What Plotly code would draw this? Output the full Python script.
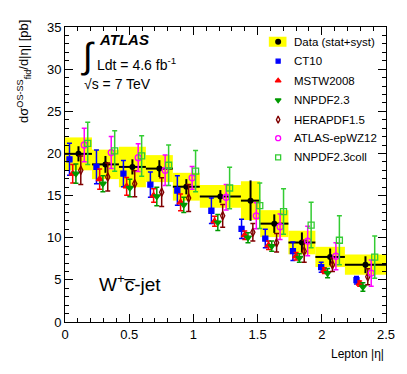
import plotly.graph_objects as go
import numpy as np

# bin edges in lepton |eta|
edges = [0, 0.21, 0.42, 0.63, 0.84, 1.05, 1.37, 1.52, 1.74, 1.95, 2.18, 2.5]

# measured cross section
data_y = [19.95, 18.7, 18.4, 18.2, 16.05, 14.9, 14.4, 11.67, 9.43, 7.72, 6.8]
data_stat = [0.9, 1.0, 0.9, 1.0, 0.9, 0.75, 2.4, 1.1, 1.2, 1.0, 1.0]
data_band = [1.95, 1.75, 2.4, 1.6, 1.65, 1.35, 2.3, 1.6, 1.4, 1.2, 1.2]

# predictions
ct10 = [19.3, 18.4, 17.6, 16.3, 15.6, 13.2, 11.05, 9.9, 8.4, 6.5, 4.96]
ct10_err = [1.9, 2.0, 1.55, 1.5, 1.75, 1.5, 1.15, 1.1, 1.1, 0.6, 0.45]
mstw = [17.6, 16.95, 16.1, 15.0, 14.2, 11.95, 10.3, 9.1, 7.8, 6.1, 4.55]
mstw_err = [1.1, 1.2, 1.05, 0.8, 1.0, 0.6, 0.5, 0.5, 0.45, 0.35, 0.3]
nnpdf = [17.6, 16.4, 15.9, 14.9, 13.9, 11.8, 10.0, 9.0, 7.6, 5.8, 4.15]
nnpdf_err = [1.15, 0.95, 1.05, 1.1, 0.9, 0.95, 0.6, 0.6, 0.5, 0.55, 0.5]
hera = [18.0, 17.2, 16.4, 15.4, 14.7, 12.6, 10.65, 9.4, 8.4, 6.8, 5.37]
hera_err = [1.7, 1.65, 1.55, 1.7, 1.6, 1.35, 1.05, 1.1, 1.3, 0.8, 0.95]
epwz = [21.0, 20.1, 19.5, 18.0, 17.1, 14.8, 12.6, 11.3, 9.6, 7.8, 5.8]
epwz_err = [2.0, 1.9, 1.65, 1.8, 1.35, 1.5, 1.55, 1.5, 1.75, 1.6, 1.55]
coll = [21.2, 20.3, 19.7, 18.6, 17.9, 15.9, 13.8, 13.1, 11.5, 9.7, 7.7]
coll_err = [2.5, 2.4, 2.4, 2.4, 2.45, 2.45, 2.7, 2.7, 2.7, 2.9, 2.5]

x_ticks = [0, 0.5, 1, 1.5, 2, 2.5]
x_ticktext = ["0", "0.5", "1", "1.5", "2", "2.5"]

edges = np.array(edges)
centers = (edges[:-1] + edges[1:]) / 2
widths = edges[1:] - edges[:-1]
dy = np.array(data_y)
band = np.array(data_band)

fig = go.Figure()

# yellow stat+syst boxes
fig.add_trace(go.Bar(x=centers, y=2 * band, base=dy - band, width=widths,
                     marker=dict(color="#ffff00", line=dict(width=0)),
                     showlegend=False, hoverinfo="skip"))

# data points with bin-width bars
fig.add_trace(go.Scatter(
    x=centers, y=dy, mode="markers",
    marker=dict(color="black", size=6, symbol="circle"),
    error_x=dict(type="data", array=widths / 2, color="black", thickness=2, width=0),
    error_y=dict(type="data", array=data_stat, color="black", thickness=2, width=0),
    showlegend=False))

preds = [
    ("CT10", ct10, ct10_err, -0.07, "square", "#0000ff", 5),
    ("MSTW2008", mstw, mstw_err, -0.045, "triangle-up", "#ff0000", 6),
    ("NNPDF2.3", nnpdf, nnpdf_err, -0.02, "triangle-down", "#009900", 6),
    ("HERAPDF1.5", hera, hera_err, 0.018, "diamond-tall-open", "#800000", 6),
    ("ATLAS-epWZ12", epwz, epwz_err, 0.045, "circle-open", "#ff00ff", 6),
    ("NNPDF2.3coll", coll, coll_err, 0.072, "square-open", "#33cc33", 6),
]

for name, vals, errs, off, sym, col, sz in preds:
    fig.add_trace(go.Scatter(
        x=centers + off, y=vals, mode="markers", name=name,
        marker=dict(color=col, size=sz, symbol=sym, line=dict(color=col, width=1.3)),
        error_y=dict(type="data", array=errs, color=col, thickness=1.5, width=2.5),
        showlegend=False))

# hand made legend (positions in plot-area fractions)
leg_x = 0.664
leg_y = [0.950, 0.884, 0.818, 0.752, 0.686, 0.623, 0.558]
fig.add_shape(type="rect", xref="paper", yref="paper", x0=0.635, x1=0.69,
              y0=0.933, y1=0.967, fillcolor="#ffff00", line=dict(width=0), layer="below")
fig.add_trace(go.Scatter(x=[leg_x], y=[leg_y[0]], xaxis="x2", yaxis="y2", mode="markers",
                         marker=dict(color="black", size=6), showlegend=False, hoverinfo="skip"))
for (name, vals, errs, off, sym, col, sz), ly in zip(preds, leg_y[1:]):
    fig.add_trace(go.Scatter(x=[leg_x], y=[ly], xaxis="x2", yaxis="y2", mode="markers",
                             marker=dict(color=col, size=sz - 1, symbol=sym, line=dict(color=col, width=1.3)),
                             showlegend=False, hoverinfo="skip"))
leg_names = ["Data (stat+syst)"] + [p[0] for p in preds]
for name, ly in zip(leg_names, leg_y):
    fig.add_annotation(x=0.707, y=ly, xref="paper", yref="paper", text=name, showarrow=False,
                       xanchor="left", yanchor="middle", font=dict(size=11.5))

font = "Liberation Sans, Arial, sans-serif"
ann = [
    dict(x=0.100, y=0.959, text="<b><i>ATLAS</i></b>", size=15),
    dict(x=0.044, y=0.905, text="\u222b", size=36),
    dict(x=0.093, y=0.875, text="Ldt = 4.6 fb<sup>-1</sup>", size=14),
    dict(x=0.053, y=0.806, text="\u221as = 7 TeV", size=14),
    dict(x=0.100, y=0.133, text="W<sup>+</sup>c\u0305-jet", size=19),
]
for a in ann:
    fig.add_annotation(x=a["x"], y=a["y"], xref="paper", yref="paper", text=a["text"],
                       showarrow=False, xanchor="left", yanchor="middle", font=dict(size=a["size"]))

fig.add_annotation(x=1.0, y=-0.108, xref="paper", yref="paper", text="Lepton |\u03b7|",
                   showarrow=False, xanchor="right", yanchor="middle", font=dict(size=12))
fig.add_annotation(x=-0.13, y=1.03, xref="paper", yref="paper",
                   text="d\u03c3<sup>OS-SS</sup><sub>fid</sub>/d|\u03b7| [pb]", textangle=-90,
                   showarrow=False, xanchor="center", yanchor="top", font=dict(size=13))

axis_common = dict(showline=True, linecolor="black", linewidth=1, mirror="ticks",
                   ticks="inside", ticklen=8, tickcolor="black", showgrid=False, zeroline=False,
                   tickfont=dict(size=13))
# page body keeps an 8px margin, so the figure is 8px smaller and margins shifted
fig.update_layout(
    width=399, height=366,
    margin=dict(l=57, r=13, t=19, b=52),
    plot_bgcolor="white", paper_bgcolor="white",
    font=dict(family=font, color="black"),
    barmode="overlay",
    xaxis=dict(range=[0, 2.5], tickvals=x_ticks, ticktext=x_ticktext,
               minor=dict(dtick=0.1, ticks="inside", ticklen=4, tickcolor="black"), **axis_common),
    yaxis=dict(range=[0, 35], dtick=5,
               minor=dict(dtick=1, ticks="inside", ticklen=4, tickcolor="black"), **axis_common),
    xaxis2=dict(range=[0, 1], overlaying="x", visible=False),
    yaxis2=dict(range=[0, 1], overlaying="y", visible=False),
)

fig.write_html("out.html")
